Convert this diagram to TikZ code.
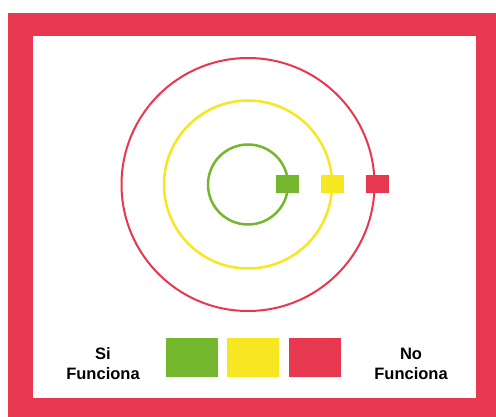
\documentclass[tikz,border=0pt]{standalone}
\usepackage{fontspec}
\setmainfont{Liberation Sans}
\usetikzlibrary{positioning}

\definecolor{rojo}{RGB}{231,56,80}
\definecolor{verde}{RGB}{116,182,44}
\definecolor{amarillo}{RGB}{247,231,34}

\tikzset{
  marca/.style={minimum width=23pt,minimum height=18pt,inner sep=0pt},
  caja/.style={minimum width=52pt,minimum height=39pt,inner sep=0pt},
  etiqueta/.style={align=center,font=\bfseries\fontsize{16.5}{20}\selectfont}
}

\begin{document}
\begin{tikzpicture}[x=1pt,y=-1pt]
        \useasboundingbox (0,0) rectangle (496,417);
        % marco
        \fill[rojo] (8,13) rectangle (496,417);
        \fill[white] (33,36) rectangle (476,398);
        \coordinate (O) at (248,184.5);
		\draw[verde,line width=2.5pt] (O) circle (40);
		\draw[amarillo,line width=2.5pt] (O) circle (84);
		\draw[rojo,line width=2pt] (O) circle (126.5);
		\node[marca,fill=verde] (m1) at (287.5,184) {};
		\node[marca,fill=amarillo] (m2) at (332.5,184) {};
		\node[marca,fill=rojo] (m3) at (377,184) {};
		% leyenda
		\node[caja,fill=verde] (c1) at (192,357.5) {};
		\node[caja,fill=amarillo,right=9pt of c1] (c2) {};
		\node[caja,fill=rojo,right=9pt of c2] (c3) {};
		\node[etiqueta] (si) at (103,364) {Si\\Funciona};
		\node[etiqueta] (no) at (411,364) {No\\Funciona};
\end{tikzpicture}
\end{document}
